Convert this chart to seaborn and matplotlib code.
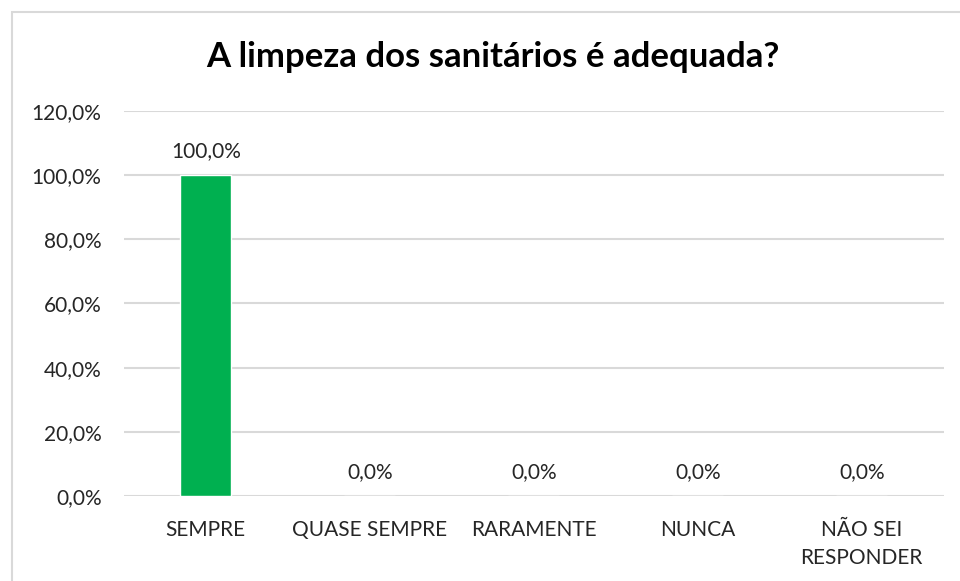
import matplotlib
matplotlib.use('Agg')
import matplotlib.pyplot as plt
from matplotlib.patches import Rectangle
import seaborn as sns

# data
categories = ['SEMPRE', 'QUASE SEMPRE', 'RARAMENTE', 'NUNCA', 'NÃO SEI\nRESPONDER']
percentages = [100.0, 0.0, 0.0, 0.0, 0.0]
yticks = [0, 20, 40, 60, 80, 100, 120]

sns.set_style('white')
plt.rcParams['font.family'] = ['Lato', 'DejaVu Sans']

fig = plt.figure(figsize=(9.6, 5.81), dpi=100)
ax = fig.add_axes([0.129, 0.1463, 0.854, 0.663])

sns.barplot(x=categories, y=percentages, color='#00B050', width=0.31,
            saturation=1, ax=ax, zorder=3)

def pct(v):
    return f'{v:.1f}%'.replace('.', ',')

ax.bar_label(ax.containers[0], labels=[pct(v) for v in percentages],
             padding=10, fontsize=15, color='#262626')

ax.set_ylim(0, 120)
ax.set_yticks(yticks)
ax.set_yticklabels([pct(v) for v in yticks], fontsize=15, color='#262626')
ax.tick_params(axis='x', labelsize=15, labelcolor='#262626', length=0, pad=17)
for lbl in ax.get_xticklabels():
    lbl.set_linespacing(1.55)
ax.tick_params(axis='y', length=0, pad=16)
ax.set_xlabel('')
ax.set_ylabel('')
ax.yaxis.grid(True, color='#D9D9D9', linewidth=1.5, zorder=0)
ax.set_axisbelow(True)
for s in ax.spines.values():
    s.set_visible(False)

fig.text(0.513, 0.902, 'A limpeza dos sanitários é adequada?', ha='center',
         va='center', fontsize=25, fontweight='bold', color='black')

# chart border (cut off at right and bottom in the reference)
fig.patches.append(Rectangle((12 / 960, -0.1), 1.2, 1 - 12 / 581 + 0.1,
                             transform=fig.transFigure, fill=False,
                             edgecolor='#D9D9D9', linewidth=1.5))

fig.savefig('out.png', dpi=100)
